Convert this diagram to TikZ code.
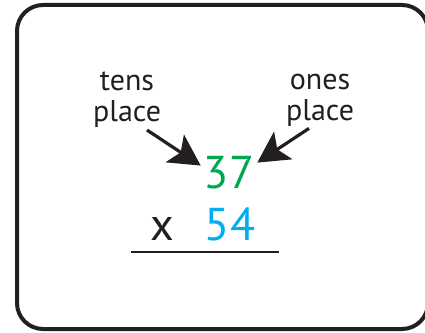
\documentclass[tikz,border=0pt]{standalone}
\usepackage{fontspec}
\setmainfont{PT Sans}
\definecolor{offblack}{HTML}{231f20}
\definecolor{tensgreen}{HTML}{00a651}
\definecolor{onesblue}{HTML}{00aeef}
\usetikzlibrary{arrows.meta}
\usetikzlibrary{positioning}

\begin{document}
\begin{tikzpicture}[x=1pt, y=1pt,
    label/.style={align=center, inner sep=0pt, text=offblack,
      font=\fontsize{30}{31}\selectfont},
    digits/.style={inner sep=0pt, anchor=base,
      font=\fontsize{46}{50}\selectfont},
    pointer/.style={offblack, line width=3.2pt,
      -{Stealth[length=31pt, width=33pt, inset=7pt]}}]
        \useasboundingbox (0,0) rectangle (425,332);
        \draw [offblack, line width=4pt, rounded corners=26pt]
          (17,3) rectangle (428,327);

        % place labels
        \node [label] (tens) at (127,232) {tens\\place};
        \node [label] (ones) at (320,232) {ones\\place};

        % the sum
        \node [digits, text=tensgreen] (top) at (229,143) {37};
        \node [digits, text=onesblue] (bottom) at (230,92) {54};
        \node [digits, text=offblack, left=30pt of bottom.base west, anchor=base east]
          (times) {x};
        \coordinate (rule west) at (131,80);
        \coordinate (rule east) at (279,80);
        \draw [offblack, line width=2pt] (rule west) -- (rule east);

        \draw [pointer] ([xshift=20pt, yshift=-2pt]tens.south) -- ([shift={(-3pt,-9pt)}]top.north west);
        \draw [pointer] ([xshift=-11pt, yshift=-2pt]ones.south) -- ([shift={(3pt,-6pt)}]top.north east);
    \end{tikzpicture}
\end{document}
